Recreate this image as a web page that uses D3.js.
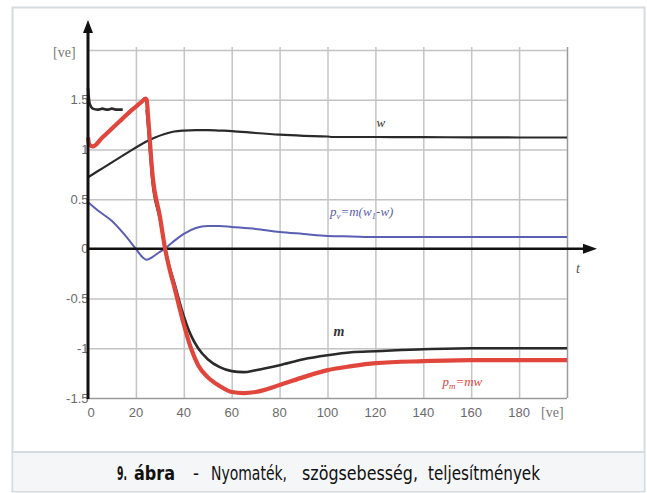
<!DOCTYPE html>
<html>
<head>
<meta charset="utf-8">
<script src="https://cdn.jsdelivr.net/npm/d3@7"></script>
<style>
  html, body { margin: 0; padding: 0; background: #fff; }
  svg { display: block; }
</style>
</head>
<body>
<svg id="chart"></svg>
<script>
// Time axis values [ve] and series
const xTicks = [0, 20, 40, 60, 80, 100, 120, 140, 160, 180];
const yTicks = [-1.5, -1, -0.5, 0, 0.5, 1, 1.5];
const yTickLabels = ["-1.5", "-1", "-0.5", "0", "0.5", "1", "1.5"];

// w - angular speed
const wT = [0, 4, 8, 12, 16, 20, 24, 28, 32, 36, 40, 45, 50, 55, 60, 70, 80, 90, 100, 102, 120, 140, 160, 180, 200];
const wV = [0.72, 0.78, 0.84, 0.9, 0.96, 1.02, 1.075, 1.12, 1.155, 1.18, 1.19, 1.195, 1.195, 1.19, 1.185, 1.165, 1.148, 1.137, 1.13, 1.125, 1.125, 1.123, 1.122, 1.12, 1.12];

// m - torque (null = hidden under the red curve)
const mT = [0, 0.7, 2, 4, 6, 8, 10, 12, 14.5, 20, 24.5, 25, 27, 30, 32.2, 34, 36, 39, 43, 46, 50, 55, 60, 65, 70, 80, 90, 100, 110, 120, 140, 160, 180, 200];
const mV = [1.62, 1.46, 1.41, 1.40, 1.41, 1.40, 1.41, 1.40, 1.40, null, 1.4, 1.26, 0.66, 0.3, 0, -0.18, -0.34, -0.6, -0.87, -1.0, -1.11, -1.19, -1.23, -1.24, -1.22, -1.17, -1.11, -1.07, -1.04, -1.03, -1.01, -1.0, -1.0, -1.0];

// p_v = m(w1 - w)
const pvT = [0, 5, 10, 15, 20, 23, 24.5, 27, 30, 32, 36, 40, 45, 50, 55, 60, 70, 80, 90, 100, 110, 120, 140, 160, 180, 200];
const pvV = [0.47, 0.37, 0.28, 0.15, 0.0, -0.09, -0.11, -0.08, -0.03, 0.0, 0.08, 0.15, 0.21, 0.23, 0.23, 0.22, 0.2, 0.17, 0.15, 0.13, 0.125, 0.12, 0.12, 0.12, 0.12, 0.12];

// p_m = m*w
const pmT = [0, 0.5, 2, 6, 10, 14, 18, 22, 24, 24.5, 25, 27, 30, 32.2, 34, 36, 39, 43, 46, 50, 55, 60, 65, 70, 80, 90, 100, 110, 120, 140, 160, 180, 200];
const pmV = [1.12, 1.05, 1.03, 1.12, 1.21, 1.3, 1.39, 1.47, 1.51, 1.5, 1.36, 0.73, 0.33, 0, -0.2, -0.38, -0.67, -1.0, -1.17, -1.29, -1.38, -1.44, -1.45, -1.44, -1.37, -1.29, -1.22, -1.18, -1.15, -1.13, -1.12, -1.12, -1.12];

const width = 647, height = 493;
const svg = d3.select("#chart").attr("width", width).attr("height", height);

// Frame and caption band
svg.append("rect")
  .attr("x", 12.5).attr("y", 7.5).attr("width", 632).attr("height", 484)
  .attr("fill", "#fff").attr("stroke", "#d6dbe0").attr("stroke-width", 2);
svg.append("rect")
  .attr("x", 13.5).attr("y", 452).attr("width", 630).attr("height", 39)
  .attr("fill", "#f5f6f8");
svg.append("line")
  .attr("x1", 13).attr("x2", 644).attr("y1", 452).attr("y2", 452)
  .attr("stroke", "#d6dbe0").attr("stroke-width", 2);

// Scales
const x = d3.scaleLinear().domain([0, 200]).range([88, 567]);
const y = d3.scaleLinear().domain([-1.5, 2]).range([398, 50]);

// Grid
const grid = svg.append("g");
grid.call(d3.axisBottom(x).tickValues(d3.range(20, 201, 20)).tickSize(y(-1.5) - y(2) + 3).tickFormat(""))
  .attr("transform", `translate(0,${y(2) - 3})`);
grid.select(".domain").remove();
grid.selectAll("line").attr("stroke", "#c4c4c4").attr("stroke-width", 1.5);
grid.selectAll(".tick").filter(d => d === 200).select("line").attr("stroke", "#9a9a9a");

const gridY = svg.append("g");
gridY.call(d3.axisRight(y).tickValues(d3.range(-1.5, 2.01, 0.5)).tickSize(x(200) - x(0)).tickFormat(""))
  .attr("transform", `translate(${x(0)},0)`);
gridY.select(".domain").remove();
gridY.selectAll("line").attr("stroke", "#c4c4c4").attr("stroke-width", 1.5);
gridY.selectAll(".tick").filter(d => d === -1.5).select("line").attr("stroke", "#9a9a9a");

// Tick labels
svg.append("g").selectAll("text").data(xTicks).join("text")
  .attr("x", d => x(d) + (d === 0 ? 3 : 0))
  .attr("y", 417)
  .attr("text-anchor", "middle")
  .attr("font-family", "Liberation Sans, Arial, sans-serif")
  .attr("font-size", 13)
  .attr("fill", "#6a6a6a")
  .text(d => d);

svg.append("g").selectAll("text").data(yTicks).join("text")
  .attr("x", 88.5)
  .attr("y", d => y(d) + 4.5)
  .attr("text-anchor", "end")
  .attr("font-family", "Liberation Sans, Arial, sans-serif")
  .attr("font-size", 13)
  .attr("fill", "#6a6a6a")
  .text((d, i) => yTickLabels[i]);

svg.append("text").attr("x", 53).attr("y", 57)
  .attr("font-family", "Liberation Serif, serif").attr("font-size", 14)
  .attr("fill", "#777").text("[ve]");
svg.append("text").attr("x", 541).attr("y", 417)
  .attr("font-family", "Liberation Serif, serif").attr("font-size", 14)
  .attr("fill", "#777").text("[ve]");

// Curves
const line = (ts, vs) => d3.line()
  .defined((d, i) => vs[i] !== null)
  .x((d, i) => x(ts[i]))
  .y((d, i) => y(vs[i]))
  .curve(d3.curveMonotoneX)(ts);

svg.append("path").attr("d", line(wT, wV))
  .attr("fill", "none").attr("stroke", "#2a2a2a").attr("stroke-width", 2.2);
svg.append("path").attr("d", line(mT, mV))
  .attr("fill", "none").attr("stroke", "#2a2a2a").attr("stroke-width", 2.6);
svg.append("path").attr("d", line(pvT, pvV))
  .attr("fill", "none").attr("stroke", "#5a5fb3").attr("stroke-width", 2);

// Axes with arrows
svg.append("line")
  .attr("x1", x(0)).attr("x2", 585).attr("y1", y(0)).attr("y2", y(0))
  .attr("stroke", "#111").attr("stroke-width", 2.5);
svg.append("path")
  .attr("d", `M597,${y(0)} L583,${y(0) - 5} L583,${y(0) + 5} Z`)
  .attr("fill", "#111");

svg.append("path").attr("d", line(pmT, pmV))
  .attr("fill", "none").attr("stroke", "#e0463b").attr("stroke-width", 4.2)
  .attr("stroke-linejoin", "round");

svg.append("line")
  .attr("x1", x(0)).attr("x2", x(0)).attr("y1", 399).attr("y2", 30)
  .attr("stroke", "#111").attr("stroke-width", 3);
svg.append("path")
  .attr("d", `M${x(0)},20 L${x(0) - 5},33 L${x(0) + 5},33 Z`)
  .attr("fill", "#111");

// Curve labels
const lab = svg.append("g").attr("font-family", "Liberation Serif, serif").attr("font-style", "italic");
lab.append("text").attr("x", 576).attr("y", 273).attr("font-size", 14).attr("fill", "#555").text("t");
lab.append("text").attr("x", x(120.5)).attr("y", y(1.23)).attr("font-size", 13).attr("fill", "#333").text("w");
lab.append("text").attr("x", x(102.5)).attr("y", y(-0.88)).attr("font-size", 14).attr("font-weight", "bold").attr("fill", "#333").text("m");

const pv = lab.append("text").attr("x", x(101)).attr("y", y(0.33)).attr("font-size", 13).attr("fill", "#5a5fb3");
pv.append("tspan").text("p");
pv.append("tspan").attr("font-size", 9).attr("dy", 3).text("v");
pv.append("tspan").attr("dy", -3).text("=m(w");
pv.append("tspan").attr("font-size", 9).attr("dy", 3).text("1");
pv.append("tspan").attr("dy", -3).text("-w)");

const pm = lab.append("text").attr("x", x(148)).attr("y", y(-1.38)).attr("font-size", 13).attr("fill", "#e0463b");
pm.append("tspan").text("p");
pm.append("tspan").attr("font-size", 9).attr("dy", 3).text("m");
pm.append("tspan").attr("dy", -3).text("=mw");

// Caption (condensed look via horizontal scale)
const sx = 0.72;
const words = [
  { t: "9.", x: 117, w: 10, b: true },
  { t: "ábra", x: 134, w: 41, b: true },
  { t: "-", x: 193, w: 6, b: false },
  { t: "Nyomaték,", x: 211, w: 76, b: false },
  { t: "szögsebesség,", x: 302, w: 116, b: false },
  { t: "teljesítmények", x: 428, w: 112, b: false }
];
svg.append("g").selectAll("text").data(words).join("text")
  .attr("transform", d => `translate(${d.x},480) scale(${sx},1)`)
  .attr("font-family", "DejaVu Sans, sans-serif")
  .attr("font-size", 20).attr("fill", "#111")
  .attr("font-weight", d => d.b ? "bold" : "normal")
  .attr("textLength", d => d.w / sx).attr("lengthAdjust", "spacingAndGlyphs")
  .text(d => d.t);
</script>
</body>
</html>
